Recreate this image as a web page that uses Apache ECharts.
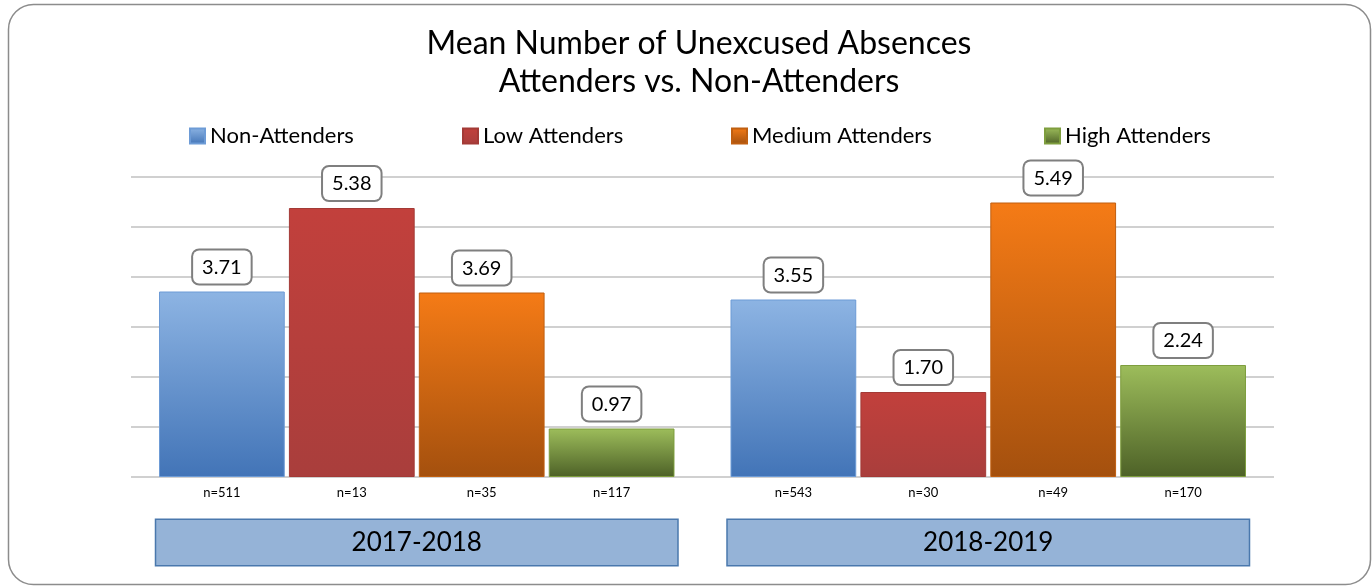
<!DOCTYPE html>
<html>
<head>
<meta charset="utf-8">
<script src="https://cdn.jsdelivr.net/npm/echarts@6/dist/echarts.min.js"></script>
<style>
  html, body { margin: 0; padding: 0; background: #fff; }
  #chart { width: 1372px; height: 586px; }
</style>
</head>
<body>
<div id="chart"></div>
<script>
// 数据
const years = ['2017-2018', '2018-2019'];
const groups = ['Non-Attenders', 'Low Attenders', 'Medium Attenders', 'High Attenders'];
const means = [
    [3.71, 3.55],   // Non-Attenders
    [5.38, 1.70],   // Low Attenders
    [3.69, 5.49],   // Medium Attenders
    [0.97, 2.24]    // High Attenders
];
const counts = [
    ['n=511', 'n=543'],
    ['n=13', 'n=30'],
    ['n=35', 'n=49'],
    ['n=117', 'n=170']
];
const yTicks = [0, 1, 2, 3, 4, 5, 6];

const FONT = 'Lato';
// 渐变色 (上 -> 下)
const colors = [
    ['#8db4e3', '#4274b7', '#6d9bd6'],
    ['#c2403c', '#a93e3c', '#a33a36'],
    ['#f57b16', '#a4500e', '#c05f10'],
    ['#9dbd5b', '#4d6127', '#7e9e3e']
];
// 图例位置
const legendLeft = [189, 462, 731, 1044];

function grad(c) {
    return new echarts.graphic.LinearGradient(0, 0, 0, 1, [
        {offset: 0, color: c[0]},
        {offset: 1, color: c[1]}
    ]);
}

let series = [];
groups.forEach(function (name, i) {
    series.push({
        name: name,
        type: 'bar',
        xAxisIndex: 0,
        data: means[i],
        barGap: '3.3%',
        barCategoryGap: '9.8%',
        itemStyle: {color: grad(colors[i]), borderColor: colors[i][2], borderWidth: 1},
        label: {
            show: true,
            position: 'top',
            distance: 8,
            formatter: function (p) { return p.value.toFixed(2); },
            fontFamily: FONT,
            fontSize: 20,
            color: '#000',
            backgroundColor: '#fff',
            borderColor: '#7f7f7f',
            borderWidth: 2,
            borderRadius: 6,
            padding: [7, 9, 6, 9]
        }
    });
});
// n= 标签 (透明柱)
groups.forEach(function (name, i) {
    series.push({
        name: name + ' n',
        type: 'bar',
        xAxisIndex: 1,
        data: means[i],
        barGap: '3.3%',
        barCategoryGap: '9.8%',
        silent: true,
        itemStyle: {color: 'rgba(0,0,0,0)'},
        label: {
            show: true,
            position: 'bottom',
            distance: 9,
            formatter: function (p) { return counts[i][p.dataIndex]; },
            fontFamily: FONT,
            fontSize: 13,
            color: '#000'
        }
    });
});

let option = {
    animation: false,
    title: {
        text: 'Mean Number of Unexcused Absences\nAttenders vs. Non-Attenders',
        left: 699,
        top: 25,
        padding: 0,
        textAlign: 'center',
        textStyle: {fontFamily: FONT, fontSize: 32, fontWeight: 'normal', color: '#000', lineHeight: 38}
    },
    legend: groups.map(function (g, i) {
        return {
            data: [g],
            left: legendLeft[i],
            top: 125,
            padding: 0,
            itemWidth: 15,
            itemHeight: 15,
            icon: 'rect',
            textStyle: {fontFamily: FONT, fontSize: 22, color: '#000'}
        };
    }),
    grid: {left: 131, right: 98, top: 177, bottom: 109},
    xAxis: [{
        type: 'category',
        data: years,
        axisLine: {show: false},
        axisTick: {show: false},
        axisLabel: {
            margin: 43,
            fontFamily: FONT,
            fontSize: 26,
            color: '#000',
            backgroundColor: '#95b3d7',
            borderColor: '#4a78ad',
            borderWidth: 1.5,
            width: 521,
            height: 45,
            lineHeight: 45,
            align: 'center'
        }
    }, {
        type: 'category',
        data: years,
        show: false
    }],
    yAxis: {
        type: 'value',
        min: yTicks[0],
        max: yTicks[yTicks.length - 1],
        interval: 1,
        axisLabel: {show: false},
        axisLine: {show: false},
        axisTick: {show: false},
        splitLine: {lineStyle: {color: '#d0d0d0', width: 2}}
    },
    graphic: [{
        type: 'rect',
        silent: true,
        shape: {x: 8.5, y: 4.5, width: 1362, height: 580, r: 25},
        style: {fill: 'none', stroke: '#8c8c8c', lineWidth: 1.5}
    }],
    series: series
};

var chart = echarts.init(document.getElementById('chart'));
chart.setOption(option);
window.onresize = function () {
    chart.resize();
};
</script>
</body>
</html>
